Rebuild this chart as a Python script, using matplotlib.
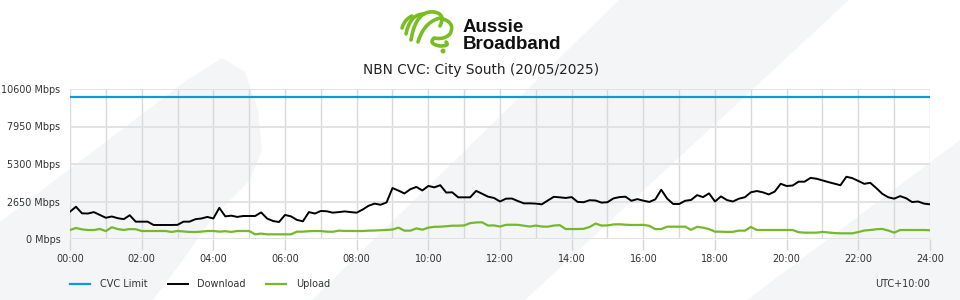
import numpy as np
import matplotlib.pyplot as plt
from matplotlib.patches import Polygon, Circle

# samples every 10 minutes, 00:00 -> 24:00
step_minutes = 10
cvc_limit = 10000
download = [
    1930, 2280, 1815, 1800, 1900, 1700, 1500, 1590, 1470, 1400,
    1680, 1225, 1225, 1225, 990, 990, 990, 990, 1000, 1225,
    1225, 1400, 1450, 1560, 1450, 2200, 1600, 1650, 1560, 1625,
    1625, 1625, 1880, 1450, 1270, 1200, 1700, 1600, 1350, 1250,
    1900, 1800, 1980, 1960, 1860, 1900, 1950, 1900, 1860, 2080,
    2350, 2500, 2420, 2580, 3600, 3420, 3220, 3520, 3680, 3430,
    3750, 3650, 3800, 3280, 3300, 2945, 2945, 2945, 3400, 3200,
    2990, 2900, 2650, 2850, 2860, 2680, 2520, 2520, 2500, 2450,
    2720, 2980, 2945, 2900, 2960, 2620, 2600, 2740, 2720, 2570,
    2600, 2870, 2960, 2990, 2700, 2820, 2710, 2620, 2800, 3480,
    2850, 2475, 2475, 2700, 2760, 3100, 2960, 3225, 2650, 3010,
    2750, 2650, 2850, 2950, 3300, 3390, 3300, 3150, 3350, 3900,
    3745, 3780, 4050, 4050, 4320, 4260, 4140, 4020, 3910, 3800,
    4400, 4300, 4100, 3900, 3970, 3600, 3200, 2950, 2850, 3030,
    2880, 2610, 2650, 2500, 2450,
]
upload = [
    635, 780, 680, 635, 635, 710, 560, 830, 700, 640,
    700, 690, 565, 565, 565, 565, 565, 500, 565, 530,
    500, 495, 520, 565, 565, 520, 550, 500, 565, 565,
    565, 330, 380, 330, 330, 330, 330, 330, 520, 520,
    550, 565, 560, 520, 510, 590, 570, 565, 565, 565,
    590, 600, 620, 640, 670, 800, 590, 590, 750, 660,
    800, 860, 870, 900, 940, 940, 960, 1120, 1170, 1180,
    950, 960, 880, 1000, 1010, 1000, 940, 880, 950, 880,
    870, 950, 980, 705, 705, 705, 720, 850, 1090, 950,
    960, 1030, 1040, 1010, 990, 990, 1000, 930, 700, 700,
    870, 870, 870, 870, 650, 860, 800, 700, 520, 518,
    500, 510, 590, 590, 850, 635, 635, 635, 635, 635,
    635, 635, 480, 447, 447, 447, 500, 460, 420, 400,
    400, 400, 490, 600, 635, 690, 710, 600, 450, 635,
    635, 635, 635, 635, 620,
]
y_ticks = [0, 2650, 5300, 7950, 10600]
x_labels = ["00:00", "02:00", "04:00", "06:00", "08:00", "10:00", "12:00",
            "14:00", "16:00", "18:00", "20:00", "22:00", "24:00"]

hours = np.arange(len(download)) * step_minutes / 60.0

W, H = 960, 300
fig = plt.figure(figsize=(9.6, 3), dpi=100)
fig.patch.set_facecolor("white")


def px(points):
    # pixel coords (origin top-left) -> figure fraction
    return [(x / W, 1 - y / H) for x, y in points]


# faint watermark shapes in the background
bg = "#f4f5f7"
shapes = [
    [(0, 300), (0, 222), (187, 80), (222, 58), (245, 72), (258, 110), (262, 150),
     (250, 180), (212, 218), (183, 260), (153, 300)],
    [(619, 0), (849, 0), (525, 300), (312, 300)],
    [(1150, 0), (960, 0), (960, 140), (747, 300), (960, 300)],
]
for s in shapes:
    fig.patches.append(Polygon(px(s), closed=True, transform=fig.transFigure,
                               facecolor=bg, edgecolor="none", zorder=-5))

# logo
logo = fig.add_axes([396 / W, 1 - 56 / H, 66 / W, 50 / H])
logo.set_xlim(396, 462)
logo.set_ylim(56, 6)
logo.axis("off")
green = "#78be20"


def bez(p0, p1, p2, n=30):
    t = np.linspace(0, 1, n)[:, None]
    p0, p1, p2 = map(np.array, (p0, p1, p2))
    return (1 - t) ** 2 * p0 + 2 * (1 - t) * t * p1 + t ** 2 * p2


strokes = [
    [((402, 28), (405, 19), (412, 16))],
    [((406, 34), (410, 14), (424, 14))],
    [((411, 40), (416, 10), (434, 12)), ((434, 12), (446, 14), (440, 26))],
    [((418, 42), (424, 22), (440, 18)), ((440, 18), (456, 22), (450, 34)),
     ((450, 34), (444, 40), (434, 38)), ((434, 38), (428, 44), (440, 46)),
     ((440, 46), (450, 46), (446, 42))],
]
for st in strokes:
    pts = np.vstack([bez(*seg) for seg in st])
    logo.plot(pts[:, 0], pts[:, 1], color=green, lw=2.6, solid_capstyle="round")
logo.add_patch(Circle((443, 51), 1.8, color=green))

fig.text(463 / W, 1 - 32 / H, "Aussie", fontsize=13.5, fontweight="bold",
         family="Liberation Sans", color="#111111", va="baseline")
fig.text(463 / W, 1 - 49 / H, "Broadband", fontsize=13.5, fontweight="bold",
         family="Liberation Sans", color="#111111", va="baseline")

fig.text(481 / W, 1 - 70 / H, "NBN CVC: City South (20/05/2025)", fontsize=9.8,
         ha="center", va="center", color="#222222")

ax = fig.add_axes([70 / W, 1 - 239 / H, 860 / W, 150 / H])
ax.set_facecolor("none")
ax.set_xlim(0, 24)
ax.set_ylim(0, 10600)

ax.plot(hours, [cvc_limit] * len(hours), color="#0b9bd8", lw=1.6, label="CVC Limit", zorder=3)
ax.plot(hours, download, color="black", lw=1.4, label="Download", zorder=3)
ax.plot(hours, upload, color="#76b82a", lw=1.6, label="Upload", zorder=3)

ax.set_yticks(y_ticks)
ax.set_yticklabels([f"{v} Mbps" for v in y_ticks])
ax.set_xticks(np.arange(0, 25, 2))
ax.set_xticklabels(x_labels)
ax.set_xticks(np.arange(0, 25, 1), minor=True)
ax.tick_params(axis="y", length=0, pad=7, labelsize=6.9, labelcolor="#333333")
ax.tick_params(axis="x", which="major", length=8, width=1, color="#d6d6d6",
               pad=3, labelsize=7, labelcolor="#333333")
ax.tick_params(axis="x", which="minor", length=0)
ax.grid(axis="x", which="both", color="#d9d9d9", lw=1)
ax.grid(axis="y", color="#e2e2e2", lw=1.4)
ax.set_axisbelow(True)
for sp in ax.spines.values():
    sp.set_visible(False)

ax.legend(loc="center left", bbox_to_anchor=(70 / W, 1 - 284 / H),
          bbox_transform=fig.transFigure, ncol=3, frameon=False, fontsize=7,
          borderpad=0, borderaxespad=0, handlelength=2.05, handletextpad=1.0,
          columnspacing=2.1, labelcolor="#333333")
fig.text(930 / W, 1 - 284 / H, "UTC+10:00", fontsize=7, ha="right", va="center",
         color="#333333")

fig.savefig("out.png", dpi=100)
